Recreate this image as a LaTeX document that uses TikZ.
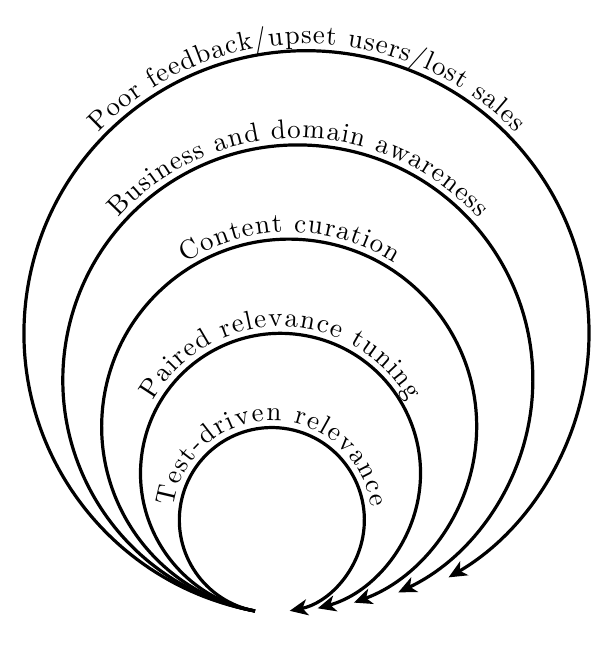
\documentclass[tikz,border=0pt]{standalone}
\usetikzlibrary{arrows.meta,decorations.text}
\font\lblfont=cmr10 at 27pt
\begin{document}
\begin{tikzpicture}[x=1pt,y=1pt,
  loopline/.style={line width=3.2pt,-{Stealth[length=18pt,width=16pt,inset=5pt]}},
  lbl/.style={decorate,decoration={text along path,text align=center,raise=7pt,
    text={|\lblfont\kern0.7pt|#1}}}]
\useasboundingbox (0,0) rectangle (604,646);
\coordinate (S) at (255,35);
% loops
\draw[loopline] (S) arc[start angle=259.5,delta angle=-338.4,radius=92.5];
\draw[loopline] (S) arc[start angle=259.5,delta angle=-334.1,radius=140];
\draw[loopline] (S) arc[start angle=259.5,delta angle=-329.3,radius=187.5];
\draw[loopline] (S) arc[start angle=259.5,delta angle=-324.2,radius=235];
\draw[loopline] (S) arc[start angle=259.5,delta angle=-319.3,radius=282.5];
% labels
\path[lbl={Test-driven relevance}] (S) ++(79.5:92.5) ++(200:92.5) arc[start angle=200,end angle=-20,radius=92.5];
\path[lbl={Paired relevance tuning}] (S) ++(79.5:140) ++(200:140) arc[start angle=200,end angle=-20,radius=140];
\path[lbl={Content curation}] (S) ++(79.5:187.5) ++(200:187.5) arc[start angle=200,end angle=-20,radius=187.5];
\path[lbl={Business and domain awareness}] (S) ++(79.5:235) ++(200:235) arc[start angle=200,end angle=-20,radius=235];
\path[lbl={Poor feedback/upset users/lost sales}] (S) ++(79.5:282.5) ++(200:282.5) arc[start angle=200,end angle=-20,radius=282.5];
\end{tikzpicture}
\end{document}
